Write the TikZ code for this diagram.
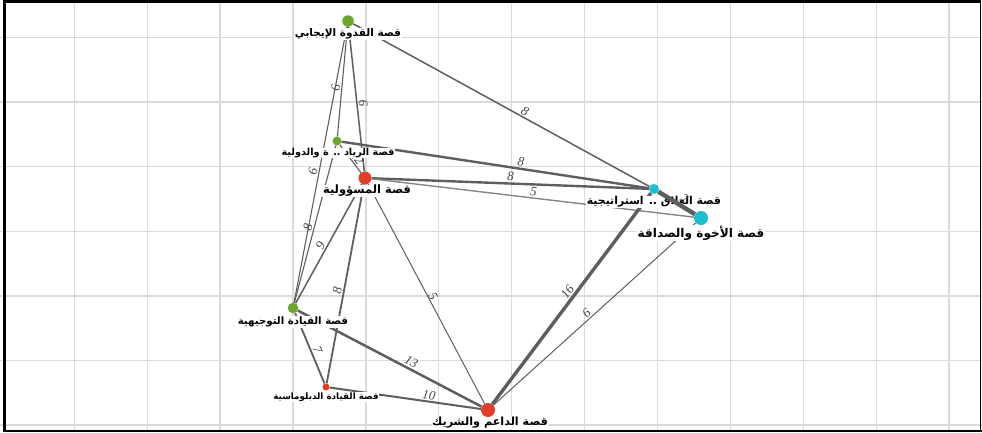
\documentclass[tikz,border=0pt]{standalone}
\usepackage{fontspec}
\setmainfont{Liberation Serif}
\newfontfamily\arabicfont[Script=Arabic]{DejaVu Sans}
\TeXXeTstate=1
\definecolor{ngreen}{HTML}{6CA62A}
\definecolor{nred}{HTML}{E23D28}
\definecolor{ncyan}{HTML}{1DBECE}
\definecolor{gridc}{HTML}{DADADA}
\definecolor{edgec}{HTML}{5E5E5E}
\definecolor{elabc}{HTML}{444444}
\begin{document}
\begin{tikzpicture}[x=1pt,y=-1pt,
  gridline/.style={draw=gridc, line width=1.3pt},
  edge/.style={draw=edgec, line width=#1},
  edge/.default=1.2pt,
  elab/.style={font=\itshape\fontsize{13}{13}\selectfont, text=elabc, sloped, above, inner sep=1.2pt},
  lab/.style={fill=white, inner sep=0.6pt, font=\arabicfont\bfseries\fontsize{#1}{#1}\selectfont},
  dot/.style={circle, inner sep=0pt, minimum size=#1}
]
\useasboundingbox (0,0) rectangle (982,432);
% grid
\foreach \gx in {74.3,147.2,220.1,293.0,365.9,438.8,511.7,584.6,657.5,730.4,803.3,876.2,949.1}
  \draw[gridline] (\gx,0) -- (\gx,432);
\foreach \gy in {37.5,102.1,166.7,231.3,295.9,360.5,425.1}
  \draw[gridline] (0,\gy) -- (982,\gy);
% frame
\draw[black, line width=2.6pt] (4.5,432) -- (4.5,1.3) -- (980.5,1.3);
\draw[black, line width=2.4pt] (4.5,431) -- (982,431);
\draw[black, line width=1.2pt] (980.5,1.3) -- (980.5,431);
% dots
\node[dot=11.5pt, fill=ngreen] (A) at (348,21) {};
\node[dot=9pt, fill=ngreen] (B) at (337,141) {};
\node[dot=13pt, fill=nred] (C) at (365,178) {};
\node[dot=10pt, fill=ncyan] (D) at (654,189) {};
\node[dot=14pt, fill=ncyan] (E) at (701,218) {};
\node[dot=10.5pt, fill=ngreen] (F) at (293,308) {};
\node[dot=7pt, fill=nred] (G) at (326,387) {};
\node[dot=14pt, fill=nred] (H) at (488,410) {};
% edges
\draw[edge=1.1pt] (A) -- node[elab, pos=.56]{6} (B);
\draw[edge=1.5pt] (A) -- node[elab, pos=.53]{6} (C);
\draw[edge=1.1pt] (A) -- node[elab, pos=.53]{6} (F);
\draw[edge=1.5pt] (A) -- node[elab, pos=.57]{8} (D);
\draw[edge=1.1pt] (B) -- node[elab, pos=.6]{12} (C);
\draw[edge=2.4pt] (B) -- node[elab, pos=.58]{8} (D);
\draw[edge=1.1pt] (B) -- node[elab, pos=.53]{8} (F);
\draw[edge=2.4pt] (C) -- node[elab, pos=.5]{8} (D);
\draw[edge=1.4pt, draw=edgec!75] (C) -- node[elab, pos=.5]{5} (E);
\draw[edge=1.5pt] (C) -- node[elab, pos=.54]{9} (F);
\draw[edge=1.8pt] (C) -- node[elab, pos=.54]{8} (G);
\draw[edge=1pt] (C) -- node[elab, pos=.52, inner sep=0pt]{5} (H);
\draw[edge=3.4pt] (D) -- node[elab, pos=.49]{16} (H);
\draw[edge=1pt] (E) -- node[elab, pos=.52]{6} (H);
\draw[edge=2.5pt] (F) -- node[elab, pos=.6]{13} (H);
\draw[edge=1.8pt] (F) -- node[elab, pos=.56]{7} (G);
\draw[edge=2pt] (G) -- node[elab, pos=.65]{10} (H);
% labels
\node[lab=10.5] (Alab) at (348,34) {\beginR قصة القدوة الإيجابي\endR};
\node[lab=9.7] (Blab) at (338,153) {\beginR قصة الرياد .. ة والدولية\endR};
\node[lab=11.5] (Clab) at (367,191) {\beginR قصة المسؤولية\endR};
\node[lab=10.9] (Dlab) at (654,202) {\beginR قصة العلاق .. استراتيجية\endR};
\node[lab=12.1] (Elab) at (701,233) {\beginR قصة الأخوة والصداقة\endR};
\node[lab=10.2] (Flab) at (293,322) {\beginR قصة القيادة التوجيهية\endR};
\node[lab=8.8] (Glab) at (326,397) {\beginR قصة القيادة الدبلوماسية\endR};
\node[lab=11.2] (Hlab) at (490,423) {\beginR قصة الداعم والشريك\endR};
\draw[edge=4.4pt] (D) -- node[elab, pos=.6]{2} (E);
\end{tikzpicture}
\end{document}
